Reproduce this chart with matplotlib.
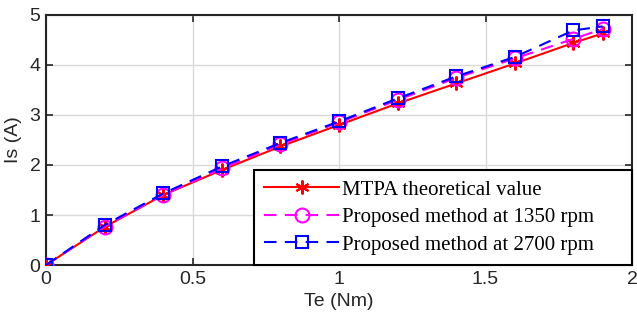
import numpy as np
import matplotlib.pyplot as plt

# ---- data ----
te = [0, 0.2, 0.4, 0.6, 0.8, 1.0, 1.2, 1.4, 1.6, 1.8, 1.9]
is_mtpa = [0, 0.76, 1.40, 1.90, 2.37, 2.80, 3.23, 3.63, 4.03, 4.44, 4.63]
is_1350 = [0, 0.77, 1.40, 1.93, 2.41, 2.85, 3.30, 3.74, 4.13, 4.52, 4.72]
is_2700 = [0, 0.80, 1.43, 1.97, 2.44, 2.87, 3.33, 3.77, 4.16, 4.69, 4.77]

labels = ["MTPA theoretical value",
          "Proposed method at 1350 rpm",
          "Proposed method at 2700 rpm"]

plt.rcParams['font.family'] = ['Liberation Sans', 'DejaVu Sans']

fig = plt.figure(figsize=(6.37, 3.24), dpi=100)
ax = fig.add_axes([0.0722, 0.182, 0.92, 0.772])

# asterisk marker (6 arms, vertical arm up) like matlab '*'
ax.plot(te, is_mtpa, color='red', lw=1.5, marker=(6, 2, 0), ms=10,
        mec='red', mew=1.5, label=labels[0], zorder=3)
ax.plot(te, is_1350, color='magenta', lw=1.5, ls=(0, (6, 4)), marker='o', ms=10,
        mec='magenta', mfc='none', mew=1.5, label=labels[1], zorder=4)
ax.plot(te, is_2700, color='blue', lw=1.5, ls=(0, (6, 4)), marker='s', ms=9,
        mec='blue', mfc='none', mew=1.5, label=labels[2], zorder=5)

ax.set_xlim(0, 2)
ax.set_ylim(0, 5)
ax.set_xticks([0, 0.5, 1, 1.5, 2])
ax.set_xticklabels(['0', '0.5', '1', '1.5', '2'])
ax.set_yticks([0, 1, 2, 3, 4, 5])

ax.grid(True, color='#d9d9d9', lw=1)
ax.set_axisbelow(True)
ax.tick_params(direction='in', top=True, right=True, length=5, width=1.2,
               labelsize=14, colors='#262626', pad=4)
for s in ax.spines.values():
    s.set_linewidth(1.5)
    s.set_color('#262626')

ax.set_xlabel("Te (Nm)", fontsize=14, color='#262626', labelpad=4)
ax.set_ylabel("Is (A)", fontsize=14, color='#262626', labelpad=5)

# legend box spans x 254..632 px, y 172..265 px in the reference
leg = ax.legend(loc='lower left', bbox_to_anchor=(0.355, 0.0, 0.645, 0.372),
                mode='expand', borderaxespad=0, handlelength=3.6,
                handletextpad=0.1, labelspacing=0.38, borderpad=0.5,
                fancybox=False, framealpha=1, edgecolor='black',
                prop={'family': 'Liberation Serif', 'size': 15})
leg.get_frame().set_linewidth(1.5)

fig.savefig("out.png", dpi=100)
